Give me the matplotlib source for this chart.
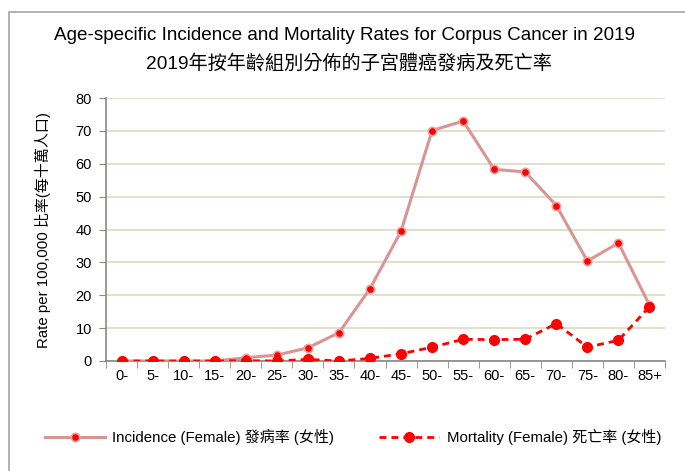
import matplotlib.pyplot as plt
from matplotlib.patches import Rectangle

plt.rcParams["font.family"] = ["Liberation Sans", "Noto Sans CJK TC", "DejaVu Sans"]

age_groups = ["0-", "5-", "10-", "15-", "20-", "25-", "30-", "35-", "40-", "45-",
              "50-", "55-", "60-", "65-", "70-", "75-", "80-", "85+"]
incidence = [0, 0, 0, 0, 1.0, 1.8, 4.0, 8.6, 22.0, 39.5,
             70.1, 73.0, 58.3, 57.5, 47.3, 30.4, 35.9, 17.0]
mortality = [0, 0, 0, 0, 0.1, 0, 0.5, 0, 0.8, 2.2,
             4.2, 6.6, 6.5, 6.6, 11.4, 4.2, 6.3, 16.5]

fig = plt.figure(figsize=(6.85, 4.71), dpi=100)
fig.patches.append(Rectangle((9 / 685, -0.1), 1.2, (471 - 12) / 471 + 0.1,
                             transform=fig.transFigure, fill=False,
                             edgecolor="#a6a6a6", linewidth=1.2))
ax = fig.add_axes([106 / 685, 110 / 471, 559 / 685, 263 / 471])

x = list(range(len(age_groups)))
ax.plot(x, incidence, color="#d99594", linewidth=2.2, marker="o", markersize=6,
        markerfacecolor="#ff0000", markeredgecolor="#e6a5a5", markeredgewidth=1.2,
        label="Incidence (Female) 發病率 (女性)", zorder=3)
ax.plot(x, mortality, color="#ff0000", linewidth=2, linestyle=(0, (2.5, 1.8)),
        marker="o", markersize=7, markerfacecolor="#ff0000", markeredgecolor="#ff0000",
        label="Mortality (Female) 死亡率 (女性)", zorder=4)

ax.set_xlim(-0.5, len(age_groups) - 0.5)
ax.set_ylim(0, 80)
ax.set_yticks(range(0, 81, 10))
ax.set_xticks(x)
ax.set_xticklabels(age_groups)
ax.set_xticks([i - 0.5 for i in range(len(age_groups) + 1)], minor=True)
ax.tick_params(axis="x", which="major", length=0, pad=6, labelsize=10.5)
ax.tick_params(axis="x", which="minor", length=5, color="#888888", direction="out")
ax.tick_params(axis="y", length=5, color="#888888", labelsize=10.5, pad=5)
ax.grid(axis="y", color="#ddd9c3", linewidth=1.2)
ax.set_axisbelow(True)
for side in ["top", "right"]:
    ax.spines[side].set_visible(False)
for side in ["left", "bottom"]:
    ax.spines[side].set_color("#888888")
    ax.spines[side].set_linewidth(1.2)

ax.set_ylabel("Rate per 100,000 比率(每十萬人口)", fontsize=10.8, labelpad=18)

fig.text(0.503, 0.924, "Age-specific Incidence and Mortality Rates for Corpus Cancer in 2019",
         ha="center", va="center", fontsize=13.6)
fig.text(0.509, 0.866, "2019年按年齡組別分佈的子宮體癌發病及死亡率",
         ha="center", va="center", fontsize=13.8)

fig.legend(loc="center", bbox_to_anchor=(0.515, 0.072), ncol=2, frameon=False,
           fontsize=10.8, handlelength=4.0, handletextpad=0.5, columnspacing=3.0)

fig.savefig("out.png", dpi=100)
